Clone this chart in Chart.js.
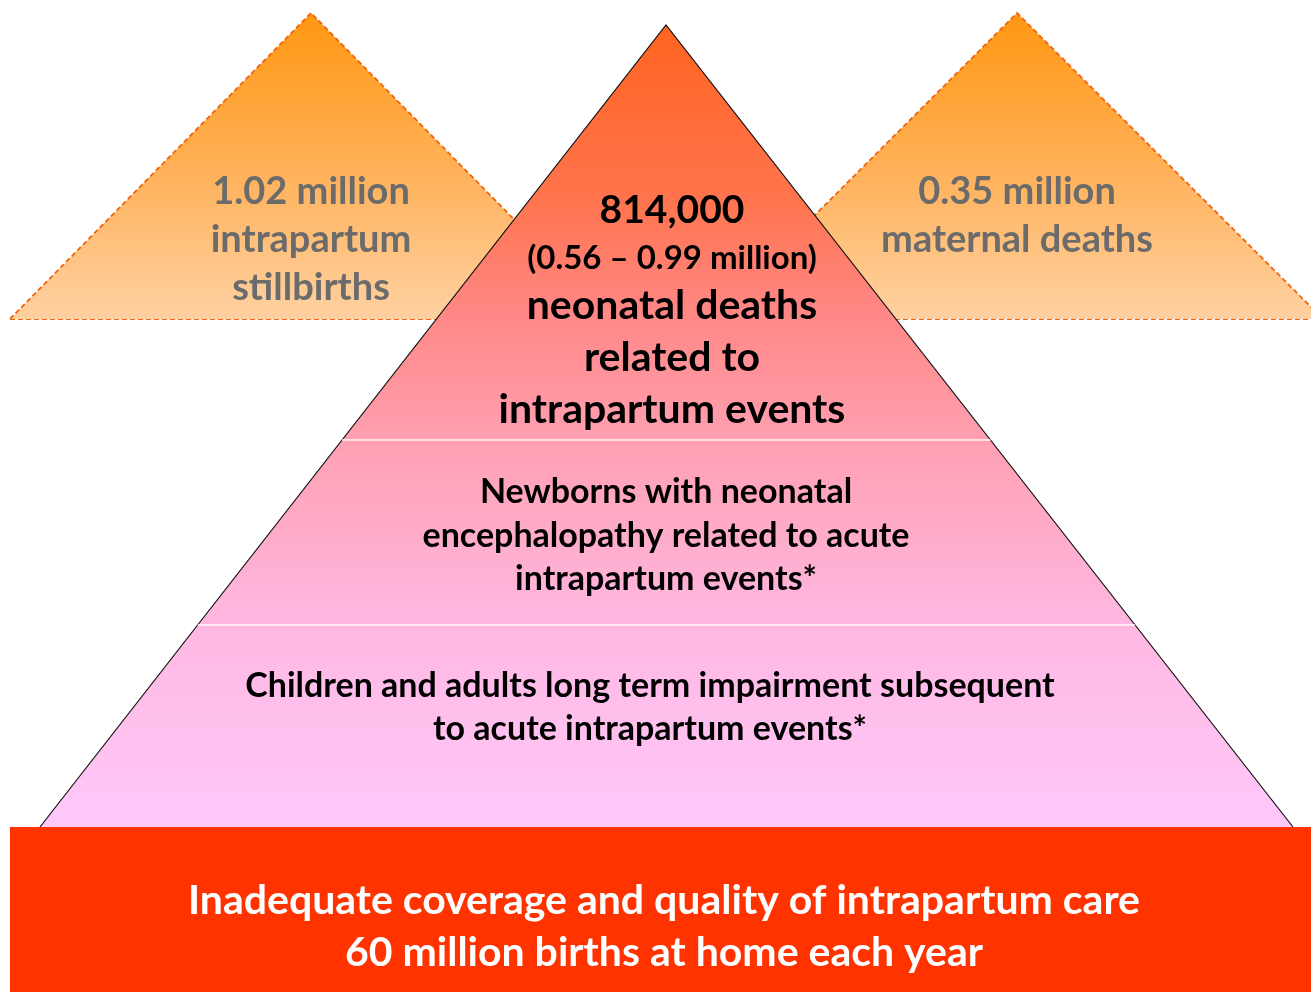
<!DOCTYPE html>
<html>
<head>
<meta charset="utf-8">
<script src="https://cdn.jsdelivr.net/npm/chart.js@4.4.1/dist/chart.umd.min.js"></script>
<style>
  html, body { margin: 0; padding: 0; background: #fff; }
  #wrap { width: 1311px; height: 992px; }
</style>
</head>
<body>
<div id="wrap"><canvas id="pyramidChart" width="1311" height="992"></canvas></div>
<script>
// Shape outlines, in chart units (x: 0-1311, y: 0-992 top-down)
const mainPyramidX = [40, 666, 1293];
const mainPyramidY = [827, 25, 827];
const stillbirthTriX = [10, 311, 612];
const stillbirthTriY = [319, 13, 319];
const maternalTriX = [711, 1017, 1323];
const maternalTriY = [319, 13, 319];
const bandDividerY = [440, 625];
const baseBoxX = [10, 1311];
const baseBoxY = [827, 827];

// Texts
const stillbirthLines = ['1.02 million', 'intrapartum', 'stillbirths'];
const maternalLines = ['0.35 million', 'maternal deaths'];
const neonatalLines = ['814,000', '(0.56 \u2013 0.99 million)', 'neonatal deaths', 'related to', 'intrapartum events'];
const encephalopathyLines = ['Newborns with neonatal', 'encephalopathy related to acute', 'intrapartum events*'];
const impairmentLines = ['Children and adults long term impairment subsequent', 'to acute intrapartum events*'];
const baseLines = ['Inadequate coverage and quality of intrapartum care', '60 million births at home each year'];

const FONT = 'Lato, "Open Sans", sans-serif';

// Build {x, y} points from two arrays
function toPoints(xs, ys) {
  return xs.map((x, i) => ({ x: x, y: ys[i] }));
}

// x position on a pyramid edge at a given y
function edgeX(baseX, y) {
  const t = (y - mainPyramidY[1]) / (mainPyramidY[0] - mainPyramidY[1]);
  return mainPyramidX[1] + (baseX - mainPyramidX[1]) * t;
}

// Vertical gradient between two y values (chart units)
function verticalGradient(chart, yTop, yBottom, stops) {
  const area = chart.chartArea;
  if (!area) return stops[0][1];
  const yScale = chart.scales.y;
  const g = chart.ctx.createLinearGradient(0, yScale.getPixelForValue(yTop), 0, yScale.getPixelForValue(yBottom));
  stops.forEach(s => g.addColorStop(s[0], s[1]));
  return g;
}

const orangeStops = [[0, '#FF9712'], [0.5, '#FFB056'], [1, '#FFD1A2']];
const pyramidStops = [[0, '#FF6420'], [0.22, '#FF744E'], [0.35, '#FF8682'], [0.52, '#FFA0B2'], [0.75, '#FFB8E2'], [1, '#FFC8FA']];

// one side triangle: filled body plus dashed base line
function sideTriangle(xs, ys, order) {
  const dashed = { borderColor: '#F0640E', borderWidth: 1.8, borderDash: [5, 3] };
  return [
    Object.assign({
      data: toPoints(xs, ys),
      backgroundColor: ctx => verticalGradient(ctx.chart, ys[1], ys[0], orangeStops),
      fill: { value: ys[0] },
      order: order
    }, dashed),
    Object.assign({
      data: [{ x: xs[0], y: ys[0] }, { x: xs[2], y: ys[2] }],
      fill: false,
      order: order
    }, dashed)
  ];
}

const datasets = [
  {
    // bottom box
    data: toPoints(baseBoxX, baseBoxY),
    borderWidth: 0,
    backgroundColor: '#FF3300',
    fill: { value: 992 },
    order: 1
  },
  ...bandDividerY.map(y => ({
    data: [{ x: edgeX(mainPyramidX[0], y), y: y }, { x: edgeX(mainPyramidX[2], y), y: y }],
    borderColor: 'rgba(255,255,255,0.9)',
    borderWidth: 1.5,
    fill: false,
    order: 2
  })),
  {
    // main pyramid
    data: toPoints(mainPyramidX, mainPyramidY),
    borderColor: '#111111',
    borderWidth: 1.2,
    backgroundColor: ctx => verticalGradient(ctx.chart, mainPyramidY[1], mainPyramidY[0], pyramidStops),
    fill: { value: mainPyramidY[0] },
    order: 3
  },
  ...sideTriangle(stillbirthTriX, stillbirthTriY, 4),
  ...sideTriangle(maternalTriX, maternalTriY, 5)
];

// Text blocks: where each group of lines sits
const textBlocks = [
  { lines: stillbirthLines, x: 311, ys: [192, 240, 288], sizes: [38, 38, 38], color: '#6B6B6B' },
  { lines: maternalLines, x: 1017, ys: [192, 240], sizes: [38, 38], color: '#6B6B6B' },
  { lines: neonatalLines, x: 672, ys: [210, 258, 306, 358, 410], sizes: [39, 33, 41, 41, 41], color: '#000000' },
  { lines: encephalopathyLines, x: 666, ys: [492, 536, 579], sizes: [34, 34, 34], color: '#000000' },
  { lines: impairmentLines, x: 650, ys: [686, 729], sizes: [34, 34], color: '#000000' },
  { lines: baseLines, x: 664, ys: [901, 953], sizes: [41, 41], color: '#FFFFFF' }
];

const textPlugin = {
  id: 'pyramidText',
  afterDatasetsDraw(chart) {
    const ctx = chart.ctx;
    const xs = chart.scales.x;
    const ys = chart.scales.y;
    ctx.save();
    ctx.textAlign = 'center';
    ctx.textBaseline = 'middle';
    textBlocks.forEach(block => {
      ctx.fillStyle = block.color;
      block.lines.forEach((line, i) => {
        ctx.font = 'bold ' + block.sizes[i] + 'px ' + FONT;
        ctx.fillText(line, xs.getPixelForValue(block.x), ys.getPixelForValue(block.ys[i]));
      });
    });
    ctx.restore();
  }
};

new Chart(document.getElementById('pyramidChart'), {
  type: 'scatter',
  data: { datasets: datasets.map(d => Object.assign({ showLine: true, pointRadius: 0, tension: 0 }, d)) },
  options: {
    responsive: false,
    animation: false,
    events: [],
    layout: { padding: 0 },
    plugins: {
      legend: { display: false },
      tooltip: { enabled: false }
    },
    scales: {
      x: { type: 'linear', min: 0, max: 1311, display: false },
      y: { type: 'linear', min: 0, max: 992, reverse: true, display: false }
    }
  },
  plugins: [textPlugin]
});
</script>
</body>
</html>
